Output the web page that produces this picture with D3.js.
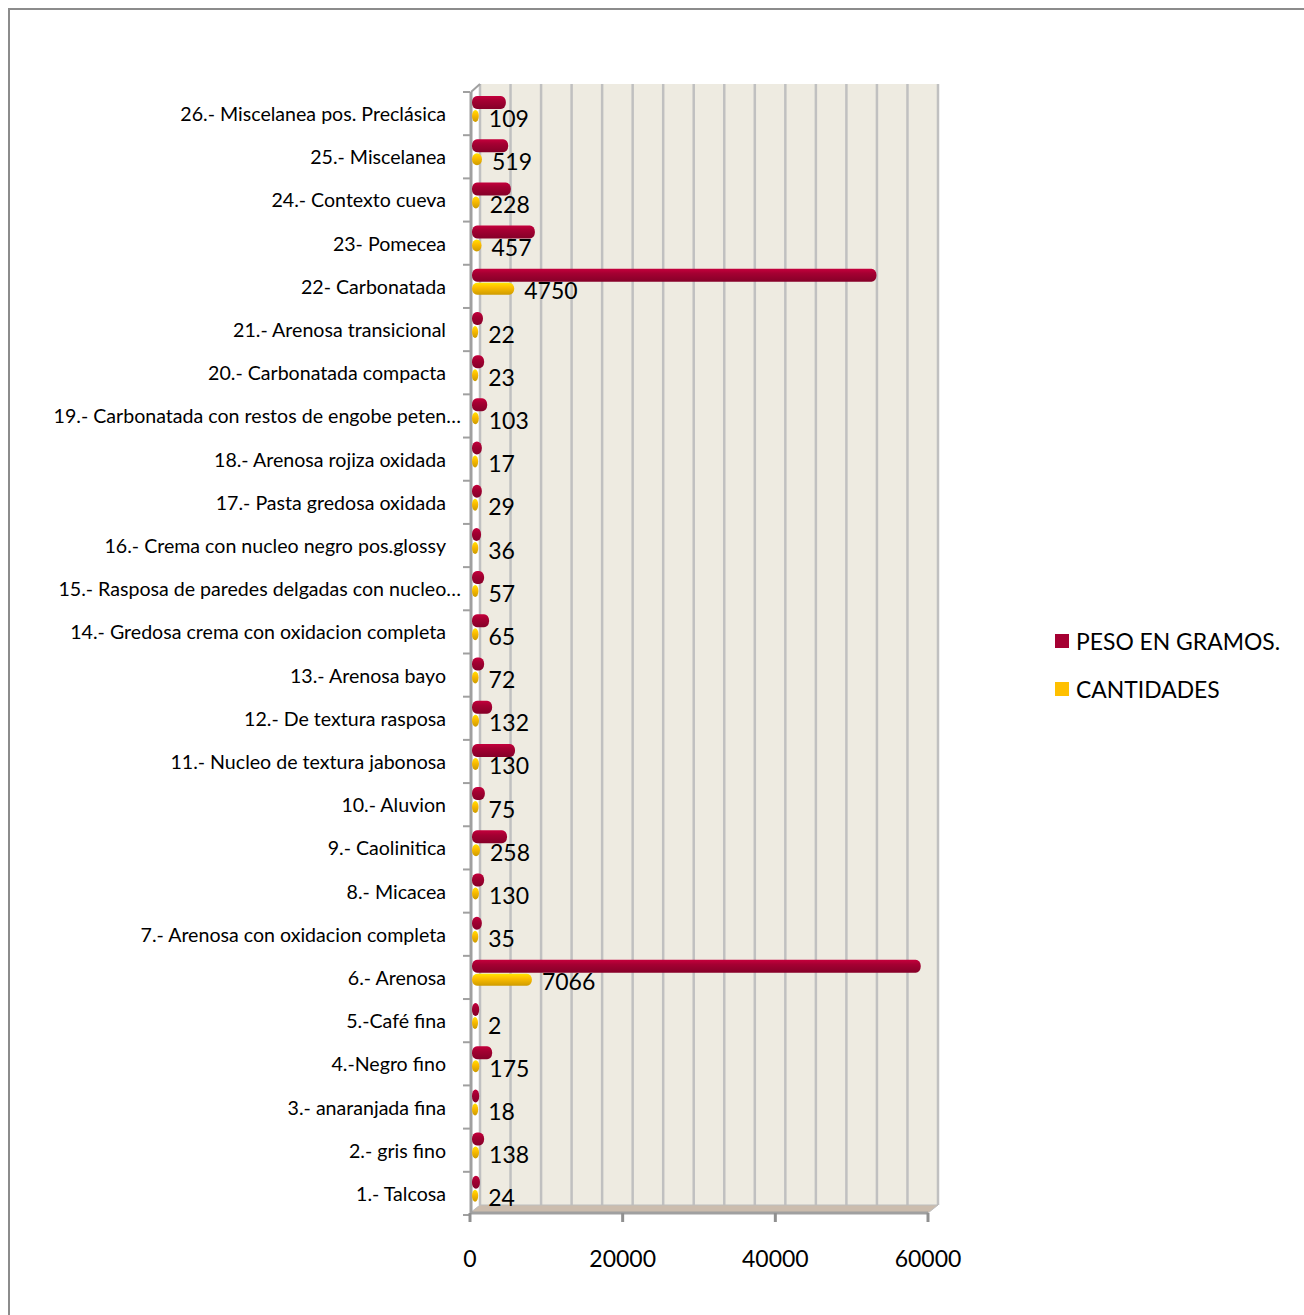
<!DOCTYPE html>
<html><head><meta charset="utf-8">
<script src="https://cdn.jsdelivr.net/npm/d3@7"></script>
<style>body{margin:0;background:#fff}svg{display:block}text{font-family:Lato,"Open Sans",sans-serif;fill:#000}</style>
</head><body>
<script>
const categories = ["1.- Talcosa","2.- gris fino","3.- anaranjada fina","4.-Negro fino","5.-Café fina","6.- Arenosa","7.- Arenosa con oxidacion completa","8.- Micacea","9.- Caolinitica","10.- Aluvion","11.- Nucleo de textura jabonosa","12.- De textura rasposa","13.- Arenosa bayo","14.- Gredosa crema con oxidacion completa","15.- Rasposa de paredes delgadas con nucleo…","16.- Crema con nucleo negro pos.glossy","17.- Pasta gredosa oxidada","18.- Arenosa rojiza oxidada","19.- Carbonatada con restos de engobe peten…","20.- Carbonatada compacta","21.- Arenosa transicional","22- Carbonatada","23- Pomecea","24.- Contexto cueva","25.- Miscelanea","26.- Miscelanea pos. Preclásica"];
const peso = [250,800,150,1850,150,58000,500,800,3800,900,4850,1850,800,1450,800,400,500,500,1200,800,650,52200,7450,4300,3950,3650];
const cantidades = [24,138,18,175,2,7066,35,130,258,75,130,132,72,65,57,36,29,17,103,23,22,4750,457,228,519,109];
const seriesNames = ["PESO EN GRAMOS.","CANTIDADES"];
const seriesColors = ["#a50032","#ffc000"];
const xTicks = [0,20000,40000,60000];
const gridStep = 4000;

const W=1304,H=1315;
const svg=d3.select("body").append("svg").attr("width",W).attr("height",H);
const defs=svg.append("defs");
function grad(id,c){
  const g=defs.append("linearGradient").attr("id",id).attr("x1",0).attr("y1",0).attr("x2",0).attr("y2",1);
  const col=d3.color(c);
  g.append("stop").attr("offset","0%").attr("stop-color",col.brighter(0.5));
  g.append("stop").attr("offset","35%").attr("stop-color",col);
  g.append("stop").attr("offset","100%").attr("stop-color",col.darker(0.6));
}
grad("g0",seriesColors[0]);grad("g1",seriesColors[1]);

// outer frame
svg.append("path").attr("d","M9,1315 L9,9 L1304,9").attr("fill","none").attr("stroke","#8c8c8c").attr("stroke-width",2);

const x=d3.scaleLinear().domain([0,60000]).range([470,928]);
const dx=10, dy=-8;
const y=d3.scaleBand().domain(d3.range(categories.length).reverse()).range([92,1215]);
const wallTop=84, floorBack=1205, front=1213;

// back wall
svg.append("rect").attr("x",x(0)+dx).attr("y",wallTop).attr("width",x(60000)-x(0)).attr("height",floorBack-wallTop).attr("fill","#eeebe1");
// side wall
svg.append("path").attr("d",`M${x(0)},${wallTop-dy} L${x(0)+dx},${wallTop} L${x(0)+dx},${floorBack} L${x(0)},${front} Z`).attr("fill","#ffffff");
// gridlines
svg.append("g").selectAll("line").data(d3.range(0,60001,gridStep)).join("line")
  .attr("x1",d=>x(d)+dx).attr("x2",d=>x(d)+dx).attr("y1",wallTop).attr("y2",floorBack)
  .attr("stroke","#c0c0c0").attr("stroke-width",2.5);
// floor
svg.append("path").attr("d",`M${x(0)},${front} L${x(0)+dx},${floorBack} L${x(60000)+dx},${floorBack} L${x(60000)},${front} Z`)
  .attr("fill","#cbbcad").attr("stroke","#bdbdbd").attr("stroke-width",1);

// left axis
svg.append("line").attr("x1",x(0)+1).attr("x2",x(0)+1).attr("y1",92).attr("y2",front).attr("stroke","#a0a0a0").attr("stroke-width",3);
svg.append("line").attr("x1",x(0)+1).attr("x2",x(0)+dx).attr("y1",92).attr("y2",wallTop).attr("stroke","#a0a0a0").attr("stroke-width",2);
svg.append("g").selectAll("line").data(d3.range(categories.length+1)).join("line")
  .attr("x1",x(0)-7).attr("x2",x(0)).attr("y1",i=>92+i*y.step()).attr("y2",i=>92+i*y.step())
  .attr("stroke","#a0a0a0").attr("stroke-width",2);
// bottom axis
svg.append("line").attr("x1",x(0)).attr("x2",x(60000)).attr("y1",front).attr("y2",front).attr("stroke","#a0a0a0").attr("stroke-width",3);
svg.append("g").selectAll("line").data(xTicks).join("line")
  .attr("x1",d=>x(d)).attr("x2",d=>x(d)).attr("y1",front).attr("y2",front+9).attr("stroke","#909090").attr("stroke-width",3);
svg.append("g").selectAll("text").data(xTicks).join("text")
  .attr("x",d=>x(d)).attr("y",1258).attr("text-anchor","middle").attr("dominant-baseline","central")
  .style("font-size","23px").text(d=>d);

// category labels
svg.append("g").selectAll("text").data(categories).join("text")
  .attr("x",d=>d.endsWith("…")?461:446).attr("y",(d,i)=>y(i)+y.bandwidth()/2)
  .attr("text-anchor","end").attr("dominant-baseline","central").style("font-size","19.6px").text(d=>d);

// bars
const bars=svg.append("g");
bars.selectAll("rect.p").data(peso).join("rect").attr("class","p")
  .attr("x",x(0)+2).attr("y",(d,i)=>y(i)+4).attr("height",13)
  .attr("width",d=>x(d)-x(0)+6).attr("rx",5).attr("ry",6).attr("fill","url(#g0)");
bars.selectAll("rect.c").data(cantidades).join("rect").attr("class","c")
  .attr("x",x(0)+2).attr("y",(d,i)=>y(i)+18).attr("height",12)
  .attr("width",d=>x(d)-x(0)+6).attr("rx",5).attr("ry",6).attr("fill","url(#g1)");
// value labels
svg.append("g").selectAll("text").data(cantidades).join("text")
  .attr("x",d=>x(d)+18).attr("y",(d,i)=>y(i)+y.bandwidth()/2+4)
  .attr("dominant-baseline","central").style("font-size","23px").text(d=>d);

// legend
const lg=svg.append("g").selectAll("g").data(seriesNames).join("g")
  .attr("transform",(d,i)=>`translate(1055,${641+i*48})`);
lg.append("rect").attr("x",0).attr("y",-7).attr("width",14).attr("height",14).attr("fill",(d,i)=>seriesColors[i]);
lg.append("text").attr("x",21).attr("y",0).attr("dominant-baseline","central").style("font-size","22.9px").text(d=>d);
</script>
</body></html>
